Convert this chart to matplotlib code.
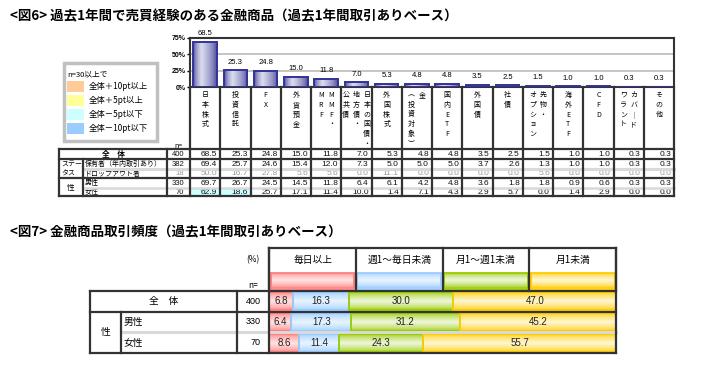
import numpy as np
import matplotlib.pyplot as plt
from matplotlib.colors import to_rgb
from matplotlib.patches import Rectangle

plt.rcParams['font.family'] = ['Noto Sans CJK JP', 'DejaVu Sans']
NARROW = ['Liberation Sans Narrow', 'Liberation Sans', 'DejaVu Sans']
SANS = ['Liberation Sans', 'DejaVu Sans']

# --- fig.6 : products traded in the past year (vertical labels, one tuple item per text column)
products = [('日本株式',), ('投資信託',), ('FX',), ('外貨預金',), ('MMF・', 'MRF'),
            ('日本の国債・', '地方債・', '公共債'), ('外国株式',), ('金', '（投資対象）'),
            ('国内ETF',), ('外国債',), ('社債',), ('先物・', 'オプション'), ('海外ETF',),
            ('CFD',), ('カバード', 'ワラント'), ('その他',)]
total = [68.5, 25.3, 24.8, 15.0, 11.8, 7.0, 5.3, 4.8, 4.8, 3.5, 2.5, 1.5, 1.0, 1.0, 0.3, 0.3]
holders = [69.4, 25.7, 24.6, 15.4, 12.0, 7.3, 5.0, 5.0, 5.0, 3.7, 2.6, 1.3, 1.0, 1.0, 0.3, 0.3]
dropouts = [50.0, 16.7, 27.8, 5.6, 5.6, 0.0, 11.1, 0.0, 0.0, 0.0, 0.0, 5.6, 0.0, 0.0, 0.0, 0.0]
male = [69.7, 26.7, 24.5, 14.5, 11.8, 6.4, 6.1, 4.2, 4.8, 3.6, 1.8, 1.8, 0.9, 0.6, 0.3, 0.3]
female = [62.9, 18.6, 25.7, 17.1, 11.4, 10.0, 1.4, 7.1, 4.3, 2.9, 5.7, 0.0, 1.4, 2.9, 0.0, 0.0]
row_labels = ['全　体', '保有者（年内取引あり）', 'ドロップアウト者', '男性', '女性']
row_n = [400, 382, 18, 330, 70]
yticks = [0, 25, 50, 75]

legend_title = 'n=30以上で'
legend_labels = ['全体＋10pt以上', '全体＋5pt以上', '全体－5pt以下', '全体－10pt以下']
legend_steps = [10, 5, -5, -10]

# --- fig.7 : trading frequency
freq_cats = ['毎日以上', '週1～毎日未満', '月1～週1未満', '月1未満']
freq_rows = ['全　体', '男性', '女性']
freq_n = [400, 330, 70]
daily = [6.8, 6.4, 8.6]
weekly = [16.3, 17.3, 11.4]
monthly = [30.0, 31.2, 24.3]
rare = [47.0, 45.2, 55.7]

# styles
legend_colors = ['#FFCC99', '#FFFF99', '#CCFFFF', '#99CCFF']
freq_edge = ['#FF8080', '#99CCFF', '#99CC00', '#FFCC00']
freq_light = ['#FFE2E2', '#E8F3FF', '#EEF6DA', '#FFF6CF']
DARK = '#333333'
GRAY = '#D9D9D9'

W, H = 711, 374
fig = plt.figure(figsize=(W / 100, H / 100), dpi=100)
bg = fig.add_axes([0, 0, 1, 1])
bg.axis('off')
bg.set_zorder(10)


def px_axes(x0, y0, x1, y1):
    return fig.add_axes([x0 / W, 1 - y1 / H, (x1 - x0) / W, (y1 - y0) / H])


def line(x0, y0, x1, y1, c=DARK, lw=1.6):
    bg.plot([x0, x1], [y0, y1], color=c, lw=lw, solid_capstyle='projecting',
            zorder=5 if c == DARK else 4)


def ramp(c_edge, c_light, n, peak):
    t = np.linspace(0, 1, n)
    f = np.where(t < peak, t / peak, (1 - t) / (1 - peak)) ** 0.6
    a, b = np.array(to_rgb(c_edge)), np.array(to_rgb(c_light))
    return a + (b - a) * f[:, None]


def fill_gradient(ax, patch, img):
    x, y = patch.get_x(), patch.get_y()
    w, h = patch.get_width(), patch.get_height()
    im = ax.imshow(img, extent=[x, x + w, y, y + h], aspect='auto',
                   interpolation='bilinear', zorder=patch.get_zorder() - 0.1)
    im.set_clip_path(patch)


# titles
bg.text(10, 16, '<図6> 過去1年間で売買経験のある金融商品（過去1年間取引ありベース）',
        fontsize=9.7, weight='bold', va='center')
bg.text(10, 232, '<図7> 金融商品取引頻度（過去1年間取引ありベース）',
        fontsize=9.7, weight='bold', va='center')

# ---------------- fig.6 bar chart
X0, X1 = 190, 674
ax1 = px_axes(X0, 38, X1, 87)
idx = np.arange(len(total))
bars = ax1.bar(idx, total, 0.78, facecolor='none', edgecolor='#333399', lw=1.4, zorder=3)
bar_img = ramp('#3c3c92', '#dcdcf0', 64, 0.35)[None, :, :]
for b in bars:
    fill_gradient(ax1, b, bar_img)
for i, v in enumerate(total):
    ax1.annotate(f'{v:.1f}', (i, v), xytext=(0, 6), textcoords='offset points',
                 ha='center', va='center', fontsize=5.5, family=NARROW)
ax1.set_xlim(-0.5, len(total) - 0.5)
ax1.set_ylim(0, 75)
ax1.set_yticks(yticks, [f'{t}%' for t in yticks], fontsize=5, family=NARROW, weight='bold')
ax1.set_xticks([])
ax1.tick_params(axis='y', length=2, width=1, pad=1)
ax1.grid(axis='y', color='#BBBBBB', lw=1.2)
ax1.set_axisbelow(True)
for s in ax1.spines.values():
    s.set_color(DARK)
    s.set_linewidth(1.5)

# vertical category labels
cw = (X1 - X0) / len(total)
for i, cols in enumerate(products):
    xc = X0 + (i + 0.5) * cw
    n = len(cols)
    for k, col in enumerate(cols):
        x = xc + ((n - 1) / 2 - k) * 10.5
        col = col.replace('ー', '｜').replace('（', '︵').replace('）', '︶')
        for j, ch in enumerate(col):
            bg.text(x, 95 + j * 9.8, ch, ha='center', va='center', fontsize=5)

# legend box
bg.add_patch(Rectangle((64, 63), 93, 78, facecolor='white', edgecolor='#C0C0C0', lw=2.5, zorder=1))
bg.text(67, 74, legend_title, fontsize=5.5, va='center')
for k, (lab, col) in enumerate(zip(legend_labels, legend_colors)):
    y = 86 + k * 14
    bg.add_patch(Rectangle((67, y - 5.5), 17, 11, facecolor=col, lw=0, zorder=2))
    bg.text(89, y, lab, fontsize=6, va='center')

# table under the chart
rows = [total, holders, dropouts, male, female]
row_y = [154.3, 164.2, 173.7, 183.0, 192.0]
for r, (vals, n, y) in enumerate(zip(rows, row_n, row_y)):
    txt_c = '#999999' if n < 30 else '#111111'
    bg.text(184, y, str(n), ha='right', va='center', fontsize=5.5, family=SANS, color=txt_c)
    for i, v in enumerate(vals):
        if r > 0 and n >= 30:
            d = v - total[i]
            fill = None
            for step, col in zip(legend_steps, legend_colors):
                if (step > 0 and d >= step) or (step < 0 and d <= step):
                    fill = col
                    break
            if fill:
                bg.add_patch(Rectangle((X0 + i * cw, y - 4.5), cw, 9, facecolor=fill, lw=0, zorder=1))
        bg.text(X0 + (i + 1) * cw - 3, y, f'{v:.1f}', ha='right', va='center',
                fontsize=6, family=NARROW, color=txt_c)

bg.text(178, 146, 'n=', fontsize=5, ha='center', va='center')
bg.text(113, row_y[0], row_labels[0], fontsize=5.5, weight='bold', ha='center', va='center')
bg.text(61, row_y[1], 'ステー', fontsize=5, va='center')
bg.text(61, row_y[2], 'タス', fontsize=5, va='center')
bg.text(71, 187.7, '性', fontsize=5.5, ha='center', va='center')
for r in range(1, 5):
    bg.text(85, row_y[r], row_labels[r], fontsize=5, va='center')

# table grid
for k in range(len(total) + 1):
    line(X0 + k * cw, 87, X0 + k * cw, 196.3)
line(59.3, 149, 59.3, 196.3)
line(82.7, 159.3, 82.7, 196.3)
line(166.7, 149, 166.7, 196.3)
for y in (149, 159.3, 178.3, 196.3):
    line(59.3, y, X1, y)
line(82.7, 169, X1, 169, c=GRAY, lw=2.2)
line(82.7, 187.5, X1, 187.5, c=GRAY, lw=1.8)

# ---------------- fig.7 stacked bars
B0, B1 = 269.3, 616
bw = (B1 - B0) / len(freq_cats)
bg.text(253, 260, '(%)', fontsize=6, ha='center', va='center')
bg.text(253, 286, 'n=', fontsize=6, ha='center', va='center')
for k, cat in enumerate(freq_cats):
    xl = B0 + k * bw
    bg.text(xl + bw / 2, 259.7, cat, fontsize=7, ha='center', va='center')
    sw = Rectangle((xl + 1.5, 272.5), bw - 3, 16, facecolor='none',
                   edgecolor=freq_edge[k], lw=1.3, zorder=3)
    bg.add_patch(sw)
    fill_gradient(bg, sw, ramp(freq_edge[k], freq_light[k], 32, 0.5)[:, None, :])

ax2 = px_axes(B0, 290.7, B1, 353.3)
series = [daily, weekly, monthly, rare]
rpos = np.arange(len(freq_rows))
left = np.zeros(len(freq_rows))
for k, vals in enumerate(series):
    hb = ax2.barh(rpos, vals, 0.84, left=left, facecolor='none',
                  edgecolor=freq_edge[k], lw=1.3, zorder=3)
    img = ramp(freq_edge[k], freq_light[k], 32, 0.5)[:, None, :]
    for b in hb:
        fill_gradient(ax2, b, img)
    for r, v in enumerate(vals):
        ax2.text(left[r] + v / 2, r, f'{v:.1f}', ha='center', va='center',
                 fontsize=7, family=NARROW, color='#222222', zorder=5)
    left += np.array(vals)
ax2.set_xlim(0, 100)
ax2.set_ylim(len(freq_rows) - 0.5, -0.5)
ax2.axis('off')

row_c = [301.2, 322.0, 342.8]
bg.text(163.5, row_c[0], freq_rows[0], fontsize=7, ha='center', va='center')
bg.text(105.3, 332.5, '性', fontsize=7, ha='center', va='center')
for r in (1, 2):
    bg.text(124, row_c[r], freq_rows[r], fontsize=7, va='center')
for r, n in enumerate(freq_n):
    bg.text(261, row_c[r], str(n), fontsize=6.5, family=SANS, ha='right', va='center')

line(B0, 248.3, B1, 248.3)
for k in range(len(freq_cats) + 1):
    line(B0 + k * bw, 248.3, B0 + k * bw, 290.7)
line(B0, 248.3, B0, 353.3)
line(B1, 248.3, B1, 353.3)
for y in (290.7, 311.7, 353.3):
    line(90, y, B1, y)
line(120.7, 331.7, B1, 331.7, c=GRAY, lw=2.2)
line(90, 290.7, 90, 353.3)
line(120.7, 311.7, 120.7, 353.3)
line(237.3, 290.7, 237.3, 353.3)

bg.set_xlim(0, W)
bg.set_ylim(H, 0)
fig.savefig('out.png', dpi=100)
